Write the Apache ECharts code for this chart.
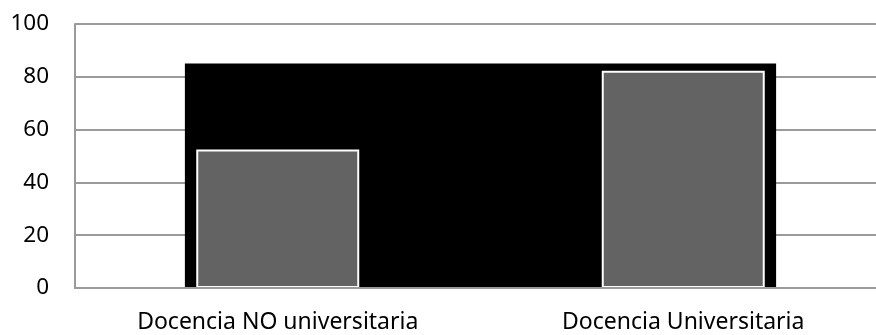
<!DOCTYPE html>
<html>
<head>
<meta charset="utf-8">
<script src="https://cdn.jsdelivr.net/npm/echarts@6/dist/echarts.min.js"></script>
<style>
  html, body { margin: 0; padding: 0; background: #fff; overflow: hidden; }
  /* the plot runs a little past the right edge of the window, as in the source */
  #chart { width: 886px; height: 335px; }
</style>
</head>
<body>
<div id="chart"></div>
<script>
var categories = ['Docencia NO universitaria', 'Docencia Universitaria'];
var values = [52.5, 82.3];
// black block behind the bars: x span on a 0..2 helper axis, top value
var backdropX = [0.271, 1.729];
var backdropTop = 85;
var yTicks = { min: 0, max: 100, interval: 20 };

(function () {
    var myChart = echarts.init(document.getElementById('chart'));

    var option = {
        animation: false,
        grid: { left: 75, right: 0, top: 24, bottom: 47, containLabel: false },
        xAxis: [
            {
                type: 'category',
                data: categories,
                axisTick: { show: false },
                axisLine: { show: true, lineStyle: { color: '#9a9a9a', width: 2 } },
                axisLabel: {
                    color: '#000',
                    fontFamily: 'Noto Sans',
                    fontSize: 23,
                    margin: 23
                },
                z: 5
            },
            {
                type: 'value',
                min: 0,
                max: 2,
                show: false
            }
        ],
        yAxis: {
            type: 'value',
            min: yTicks.min,
            max: yTicks.max,
            interval: yTicks.interval,
            axisLine: { show: true, lineStyle: { color: '#9a9a9a', width: 2 } },
            axisTick: { show: false },
            splitLine: { lineStyle: { color: '#9a9a9a', width: 2 } },
            axisLabel: {
                color: '#000',
                fontFamily: 'Noto Sans',
                fontSize: 22.5,
                margin: 26
            }
        },
        series: [
            {
                type: 'line',
                xAxisIndex: 1,
                data: [],
                silent: true,
                markArea: {
                    silent: true,
                    itemStyle: { color: '#000', opacity: 1 },
                    data: [[
                        { xAxis: backdropX[0], yAxis: 0 },
                        { xAxis: backdropX[1], yAxis: backdropTop }
                    ]]
                },
                z: 1
            },
            {
                type: 'bar',
                data: values,
                barWidth: '40.2%',
                itemStyle: {
                    color: '#636363',
                    borderColor: '#ffffff',
                    borderWidth: 2
                },
                z: 3
            }
        ]
    };

    myChart.setOption(option);
})();
</script>
</body>
</html>
